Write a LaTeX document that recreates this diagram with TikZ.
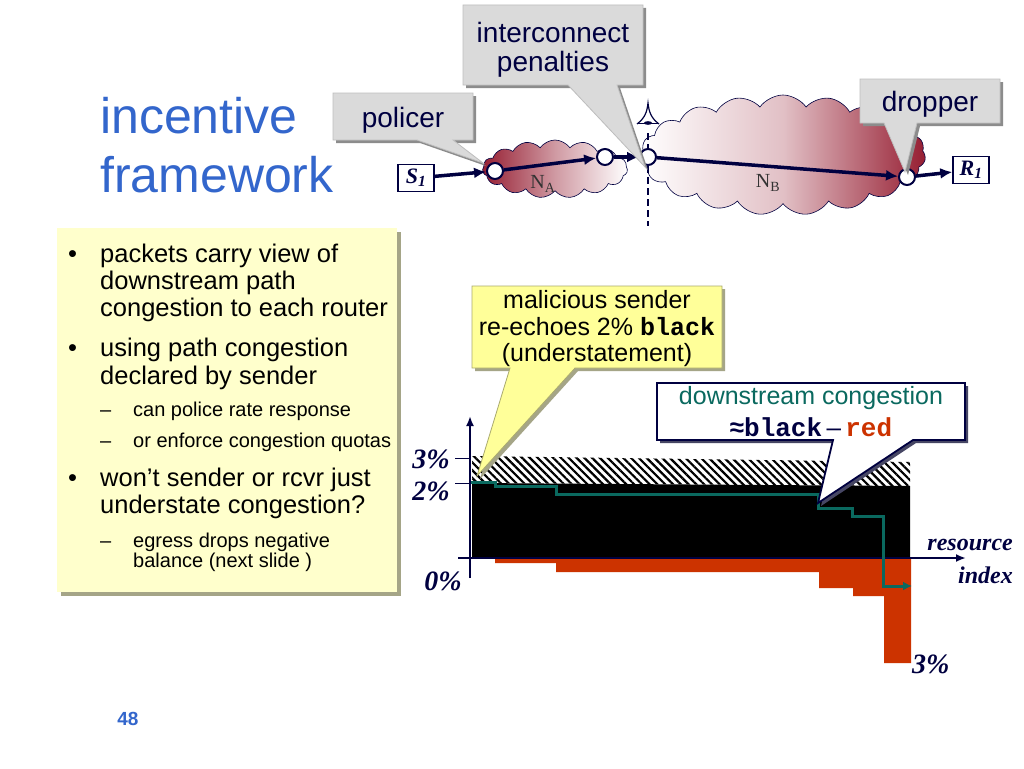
\documentclass[tikz,border=0pt]{standalone}
\usepackage{fontspec}
\setmainfont{Liberation Sans}
\newfontfamily\serifb{Liberation Serif}
\newfontfamily\monob{Liberation Mono}
\usetikzlibrary{shapes.symbols,arrows.meta,patterns.meta}
\definecolor{titleblue}{RGB}{51,102,204}
\definecolor{navy}{RGB}{0,0,64}
\definecolor{bulletbg}{RGB}{255,255,204}
\definecolor{bulletsh}{RGB}{165,165,135}
\definecolor{callgrey}{RGB}{218,218,218}
\definecolor{callborder}{RGB}{190,190,190}
\definecolor{callshadow}{RGB}{140,140,140}
\definecolor{yelcall}{RGB}{255,255,153}
\definecolor{yelborder}{RGB}{170,170,110}
\definecolor{tealc}{RGB}{10,105,95}
\definecolor{redbar}{RGB}{204,51,0}
\definecolor{cloudred}{RGB}{150,30,50}
\definecolor{dsshadow}{RGB}{70,70,100}
\tikzset{
  bigtext/.style={font=\fontsize{25.5}{27}\selectfont, inner sep=0pt, anchor=base west},
  subtext/.style={font=\fontsize{20}{22}\selectfont, inner sep=0pt, anchor=base west},
  calltext/.style={font=\fontsize{25}{27}\selectfont, inner sep=0pt, anchor=base, text=navy},
  greytext/.style={font=\fontsize{28}{30}\selectfont, inner sep=0pt, anchor=base, text=navy},
  titletext/.style={font=\fontsize{50}{55}\selectfont, text=titleblue, inner sep=0pt, anchor=base west},
  pct/.style={font=\serifb\bfseries\itshape\fontsize{28}{28}\selectfont, text=navy, inner sep=0pt},
  axlab/.style={font=\serifb\bfseries\itshape\fontsize{24}{24}\selectfont, text=navy, inner sep=0pt, anchor=base east},
  greycall/.style={fill=callgrey, draw=callborder, line width=0.8pt},
  greyshadow/.style={fill=callshadow},
  routernode/.style={circle, fill=white, draw=navy, line width=2pt, minimum size=16pt, inner sep=0pt},
  hostbox/.style={rectangle, draw=navy, line width=1.5pt, fill=white, minimum width=36pt, minimum height=27pt, inner sep=0pt, font=\serifb\bfseries\itshape\fontsize{22}{22}\selectfont, text=navy},
  netarrow/.style={line width=3.5pt, draw=navy, -{Latex[length=12pt,width=11pt]}},
  axisline/.style={line width=2pt, draw=navy},
  tickline/.style={line width=0.8pt, draw=navy},
  cloudlabel/.style={font=\serifb\fontsize{20}{20}\selectfont, text=black!80, inner sep=0pt},
}
\begin{document}
\begin{tikzpicture}[x=1pt,y=-1pt]
\useasboundingbox (0,0) rectangle (1024,768);
\fill[white] (0,0) rectangle (1024,768);

% title
\node[titletext] (t1) at (100,133) {incentive};
\node[titletext] (t2) at (100,192) {framework};

% bullet box
\fill[bulletsh] (61,232) rectangle (401,596);
\fill[bulletbg] (57,228) rectangle (397,592);
\node[bigtext] (d1) at (68,262) {•};
\node[bigtext] (b1a) at (100,262) {packets carry view of};
\node[bigtext] (b1b) at (100,289) {downstream path};
\node[bigtext] (b1c) at (100,316) {congestion to each router};
\node[bigtext] (d2) at (68,356) {•};
\node[bigtext] (b2a) at (100,356) {using path congestion};
\node[bigtext] (b2b) at (100,384) {declared by sender};
\node[subtext] (s1d) at (100,416) {–};
\node[subtext] (s1) at (133,416) {can police rate response};
\node[subtext] (s2d) at (100,447) {–};
\node[subtext] (s2) at (133,447) {or enforce congestion quotas};
\node[bigtext] (d3) at (68,486) {•};
\node[bigtext] (b3a) at (100,486) {won’t sender or rcvr just};
\node[bigtext] (b3b) at (100,513) {understate congestion?};
\node[subtext] (s3d) at (100,547) {–};
\node[subtext] (s3a) at (133,547) {egress drops negative};
\node[subtext] (s3b) at (133,567) {balance (next slide )};

% clouds
\node[cloud, cloud puffs=15, cloud puff arc=110, cloud ignores aspect, minimum width=145pt, minimum height=58pt,
      left color=cloudred, right color=white, middle color=cloudred!45, draw=navy, line width=0.6pt, inner sep=0pt] (NA) at (555,169) {};
\node[cloud, cloud puffs=19, cloud puff arc=110, cloud ignores aspect, minimum width=285pt, minimum height=120pt,
      left color=white, right color=cloudred, middle color=cloudred!28, draw=navy, line width=0.6pt, inner sep=0pt] (NB) at (783,155) {};
\node[cloudlabel] (NAl) at (543,184) {N\textsubscript{A}};
\node[cloudlabel] (NBl) at (768,183) {N\textsubscript{B}};

% interconnect boundary and eye
\draw[navy, line width=2pt, dash pattern=on 7pt off 4pt] (648,133) -- (648,226);
\draw[navy, line width=1.2pt] (637,124) .. controls (645,118) and (647,112) .. (648,103)
      .. controls (649,112) and (651,118) .. (659,124);
\draw[navy, line width=1pt] (638,123) -- (658,123);
\fill[navy] (648,123) ellipse (4 and 1.8);

% hosts, routers
\node[hostbox] (S1) at (416,178) {S\textsubscript{1}};
\node[hostbox] (R1) at (971,170) {R\textsubscript{1}};
\node[routernode] (pol) at (495,171) {};
\node[routernode] (c2) at (605,157) {};
\node[routernode] (c3) at (648,157) {};
\node[routernode] (drop) at (907,177) {};
\draw[netarrow] (S1) -- (pol);
\draw[netarrow] (pol) -- (c2);
\draw[netarrow] (c2) -- (c3);
\draw[netarrow] (c3) -- (drop);
\draw[netarrow] (drop) -- (R1);

% grey callouts
\fill[greyshadow, shift={(3,3)}] (333,93) -- (473,93) -- (473,140) -- (453,140) -- (483,163) -- (417,140) -- (333,140) -- cycle;
\path[greycall] (333,93) -- (473,93) -- (473,140) -- (453,140) -- (483,163) -- (417,140) -- (333,140) -- cycle;
\node[greytext] (polt) at (403,127) {policer};

\fill[greyshadow, shift={(3,3)}] (463,5) -- (643,5) -- (643,85) -- (617,85) -- (645,167) -- (568,85) -- (463,85) -- cycle;
\path[greycall] (463,5) -- (643,5) -- (643,85) -- (617,85) -- (645,167) -- (568,85) -- (463,85) -- cycle;
\node[greytext] (int1) at (553,42) {interconnect};
\node[greytext] (int2) at (553,71) {penalties};

\fill[greyshadow, shift={(3,3)}] (860,79) -- (1000,79) -- (1000,123) -- (917,123) -- (905,172) -- (884,123) -- (860,123) -- cycle;
\path[greycall] (860,79) -- (1000,79) -- (1000,123) -- (917,123) -- (905,172) -- (884,123) -- (860,123) -- cycle;
\node[greytext] (dropt) at (930,111) {dropper};

% chart
\fill[pattern={Lines[angle=-45,distance=5.5pt,line width=2.2pt]}] (472,456) -- (910,462) -- (910,486) -- (472,483) -- cycle;
\fill[black] (472,483) -- (910,486) -- (910,558) -- (472,558) -- cycle;
\fill[redbar] (495,558) -- (495,563) -- (556,563) -- (556,572) -- (819,572) -- (819,588) -- (853,588)
   -- (853,596) -- (884,596) -- (884,663) -- (911,663) -- (911,558) -- cycle;
\coordinate (ybot) at (470,578);
\coordinate (ytop) at (470,416);
\coordinate (xl) at (458,558);
\coordinate (xr) at (966,558);
\draw[axisline, -{Latex[length=10pt,width=8pt]}] (ybot) -- (ytop);
\draw[axisline, -{Latex[length=10pt,width=8pt]}] (xl) -- (xr);
\coordinate (t3a) at (455,458); \coordinate (t3b) at (470,458);
\coordinate (t2a) at (455,483); \coordinate (t2b) at (470,483);
\draw[tickline] (t3a) -- (t3b);
\draw[tickline] (t2a) -- (t2b);
\draw[tealc, line width=3pt, -{Latex[length=9pt,width=9pt]}] (471,482) -- (495,482) -- (495,486) -- (556,486) -- (556,494)
   -- (818,494) -- (818,508) -- (852,508) -- (852,516) -- (883,516) -- (883,586) -- (912,586);
\node[pct, anchor=base east] (l3) at (450,468) {3\%};
\node[pct, anchor=base east] (l2) at (450,500) {2\%};
\node[pct, anchor=base east] (l0) at (462,590) {0\%};
\node[pct, anchor=base west] (lb3) at (912,673) {3\%};
\node[axlab] (res) at (1013,550) {resource};
\node[axlab] (idx) at (1013,583) {index};

% malicious sender callout
\fill[bulletsh, shift={(3,3)}] (472,286) -- (722,286) -- (722,368) -- (575,368) -- (477,476) -- (510,368) -- (472,368) -- cycle;
\path[fill=yelcall, draw=yelborder, line width=0.8pt] (472,286) -- (722,286) -- (722,368) -- (575,368) -- (477,476) -- (510,368) -- (472,368) -- cycle;
\node[calltext, text=black] (m1) at (597,308) {malicious sender};
\node[calltext, text=black] (m2) at (597,335) {re-echoes 2\% {\monob\bfseries black}};
\node[calltext, text=black] (m3) at (597,361) {(understatement)};

% downstream congestion callout
\fill[dsshadow, shift={(3,3)}] (657,383) -- (965,383) -- (965,440) -- (913,440) -- (818,503) -- (833,440) -- (657,440) -- cycle;
\path[fill=white, draw=navy, line width=1.8pt] (657,383) -- (965,383) -- (965,440) -- (913,440) -- (818,503) -- (833,440) -- (657,440) -- cycle;
\node[calltext, text=tealc] (ds1) at (811,404) {downstream congestion};
\node[calltext, font=\fontsize{26}{28}\selectfont] (ds2) at (811,436) {{\bfseries ≈}{\monob\bfseries black}\,–\,{\monob\bfseries\color{redbar}red}};

% page number
\node[font=\bfseries\fontsize{19}{19}\selectfont, text=titleblue, inner sep=0pt] (pg) at (128,719) {48};
\end{tikzpicture}
\end{document}
